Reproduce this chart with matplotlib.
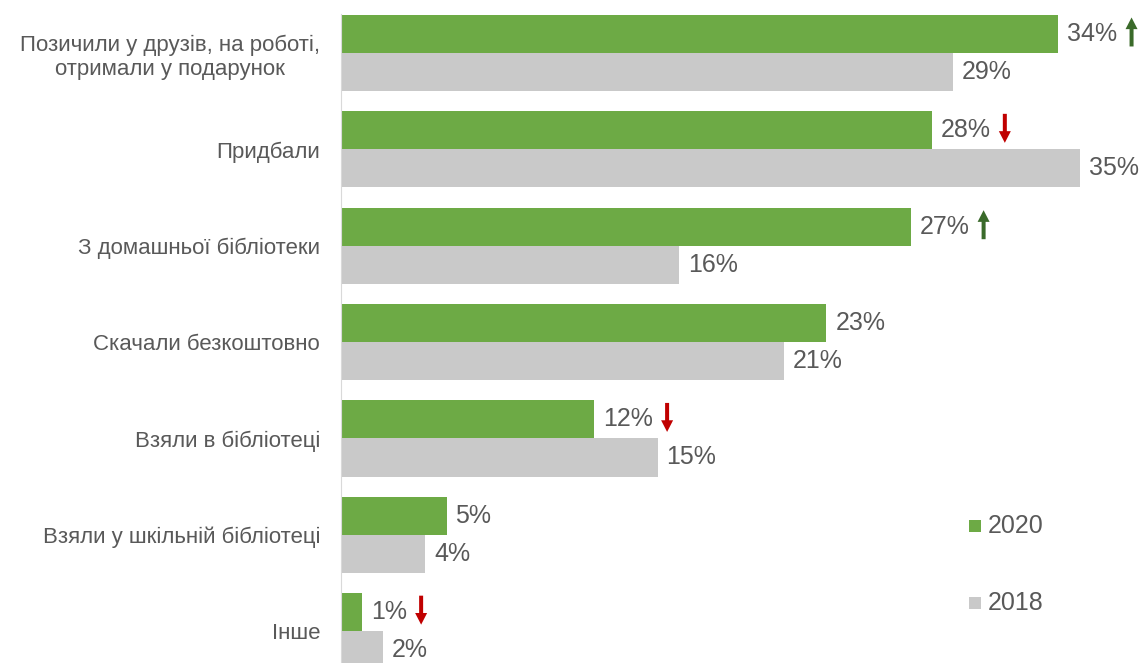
import matplotlib
matplotlib.use("Agg")
import matplotlib.pyplot as plt
from matplotlib.patches import Rectangle, FancyArrowPatch
from matplotlib.transforms import IdentityTransform

# Sources of books, share of respondents (%)
categories = [
    "Позичили у друзів, на роботі,\nотримали у подарунок",
    "Придбали",
    "З домашньої бібліотеки",
    "Скачали безкоштовно",
    "Взяли в бібліотеці",
    "Взяли у шкільній бібліотеці",
    "Інше",
]
values_2020 = [34, 28, 27, 23, 12, 5, 1]
values_2018 = [29, 35, 16, 21, 15, 4, 2]
series_names = ["2020", "2018"]
# direction of change 2018 -> 2020 flagged next to the 2020 value
trend_2020 = ["up", "down", "up", None, "down", None, "down"]

GREEN = "#6DAA45"
GREY = "#C9C9C9"
TEXT = "#595959"
UP = "#3A6A2A"
DOWN = "#C00000"

plt.rcParams["font.family"] = ["Liberation Sans", "DejaVu Sans"]

W, H, DPI = 1147, 663, 100
fig = plt.figure(figsize=(W / DPI, H / DPI), dpi=DPI)
ax = fig.add_axes([341 / W, 0, (W - 341) / W, 1])

n = len(categories)
ys = list(range(n))
bh = 0.395
ax.barh([y - bh / 2 for y in ys], values_2020, height=bh, color=GREEN, label=series_names[0])
ax.barh([y + bh / 2 for y in ys], values_2018, height=bh, color=GREY, label=series_names[1])

ax.set_xlim(0, (W - 341) / 21.1)
ax.set_ylim(6.33, -0.55)
ax.set_xticks([])
ax.set_yticks(ys)
ax.set_yticklabels(categories, fontsize=16, color=TEXT, multialignment="center")
ax.tick_params(axis="y", length=0, pad=15)
for s in ("top", "right", "bottom"):
    ax.spines[s].set_visible(False)
ax.spines["left"].set_color("#D9D9D9")
ax.spines["left"].set_bounds(-0.4, 6.6)

value_texts = []
for y, v in zip(ys, values_2020):
    t = ax.annotate(f"{v}%", xy=(v, y - bh / 2), xytext=(6.5, 0), textcoords="offset points",
                    va="center", ha="left", fontsize=18, color=TEXT)
    value_texts.append(t)
for y, v in zip(ys, values_2018):
    ax.annotate(f"{v}%", xy=(v, y + bh / 2), xytext=(6.5, 0), textcoords="offset points",
                va="center", ha="left", fontsize=18, color=TEXT)

# trend arrows placed just after the 2020 value labels
fig.canvas.draw()
renderer = fig.canvas.get_renderer()
for t, trend in zip(value_texts, trend_2020):
    if trend is None:
        continue
    bb = t.get_window_extent(renderer)
    x = bb.x1 + 14
    yc = (bb.y0 + bb.y1) / 2 + 2
    half = 14.5
    if trend == "up":
        a, b, c = (x, yc - half), (x, yc + half), UP
    else:
        a, b, c = (x, yc + half), (x, yc - half), DOWN
    arr = FancyArrowPatch(a, b, transform=IdentityTransform(),
                          arrowstyle="simple,head_length=0.7,head_width=0.72,tail_width=0.24",
                          mutation_scale=12, color=c, shrinkA=0, shrinkB=0, lw=0)
    fig.add_artist(arr)

# legend
for i, (name, col) in enumerate(zip(series_names, [GREEN, GREY])):
    yc = H - (526 + 77 * i)
    fig.add_artist(Rectangle(((969) / W, (yc - 6) / H), 12 / W, 12 / H,
                             transform=fig.transFigure, color=col, lw=0))
    fig.text(988 / W, yc / H, name, fontsize=18, color=TEXT, va="center", ha="left")

fig.savefig("out.png", dpi=DPI)
